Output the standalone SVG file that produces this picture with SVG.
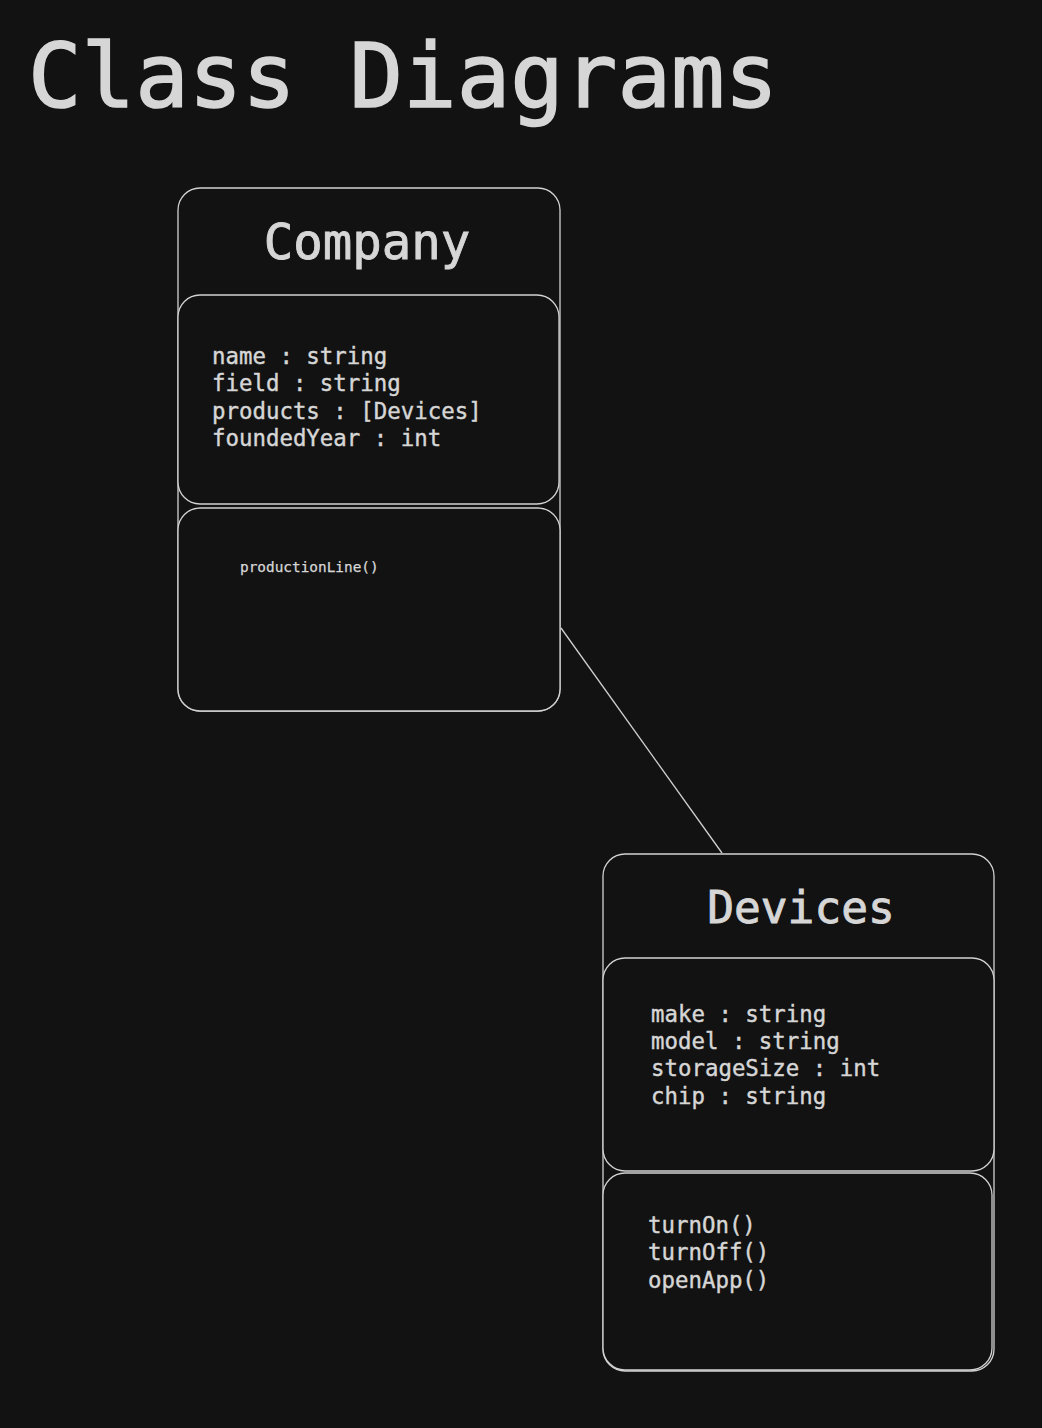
<svg xmlns="http://www.w3.org/2000/svg" width="1042" height="1428" viewBox="0 0 1042 1428">
<style>
.bg{fill:#121212}
.box{fill:#121212;stroke:#d2d2d2;stroke-width:1.3}
.t{font-family:"DejaVu Sans Mono","Liberation Mono",monospace;fill:#d6d6d6;stroke:#d6d6d6;stroke-width:0.4}
.attr{font-size:22.4px}
.conn{stroke:#cfcfcf;stroke-width:1.3;fill:none}
</style>
<rect class="bg" x="0" y="0" width="1042" height="1428"/>
<text class="t" x="28" y="107" font-size="89" style="stroke-width:1.6">Class Diagrams</text>
<g id="connectors">
<line class="conn" x1="561" y1="628" x2="722" y2="853"/>
</g>
<g id="company">
<rect class="box" x="178" y="188" width="382" height="523" rx="22"/>
<text class="t" x="367" y="259" font-size="49" text-anchor="middle" style="stroke-width:0.9">Company</text>
<rect class="box" x="178" y="295" width="381" height="209" rx="22"/>
<text class="t attr" x="212" y="364">name : string</text>
<text class="t attr" x="212" y="391">field : string</text>
<text class="t attr" x="212" y="419">products : [Devices]</text>
<text class="t attr" x="212" y="446">foundedYear : int</text>
<rect class="box" x="178" y="508" width="382" height="203" rx="22"/>
<text class="t" x="240" y="572" font-size="14.4" style="stroke-width:0.25">productionLine()</text>
</g>
<g id="devices">
<rect class="box" x="603" y="854" width="391" height="517" rx="22"/>
<text class="t" x="801" y="923" font-size="44.5" text-anchor="middle" style="stroke-width:0.9">Devices</text>
<rect class="box" x="603" y="958" width="391" height="213" rx="22"/>
<text class="t attr" x="651" y="1022">make : string</text>
<text class="t attr" x="651" y="1049">model : string</text>
<text class="t attr" x="651" y="1076">storageSize : int</text>
<text class="t attr" x="651" y="1104">chip : string</text>
<rect class="box" x="603" y="1173" width="389" height="197" rx="22"/>
<text class="t attr" x="648" y="1233">turnOn()</text>
<text class="t attr" x="648" y="1260">turnOff()</text>
<text class="t attr" x="648" y="1288">openApp()</text>
</g>
</svg>
